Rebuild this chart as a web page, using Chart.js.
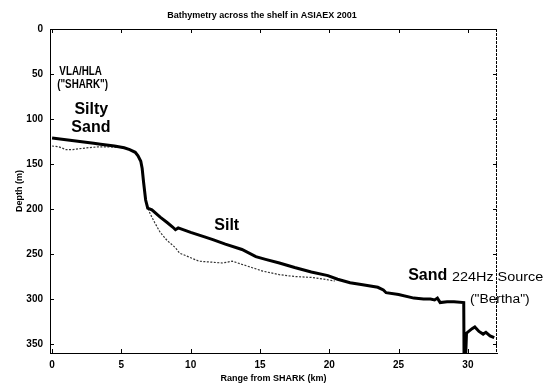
<!DOCTYPE html>
<html>
<head>
<meta charset="utf-8">
<script src="https://cdn.jsdelivr.net/npm/chart.js@4.4.0/dist/chart.umd.min.js"></script>
<style>
  html, body { margin: 0; padding: 0; background: #fff; }
</style>
</head>
<body>
<canvas id="bathy" width="546" height="386"></canvas>
<script>
// seafloor depth along the track (km, m)
const bathyRange = [0, 1, 2, 3, 3.5, 4.5, 5.2, 5.6, 6.0, 6.2, 6.4, 6.5, 6.6, 6.75, 6.9, 7.2, 7.8, 8.3, 8.7, 8.9, 9.1,
  10, 11, 11.6, 12.5, 13.7, 14.7, 15.4, 16.4, 17.5, 18.7, 19.9, 20.6, 21.5, 22.3, 23.5, 23.9, 24.1, 25, 26.1,
  26.8, 27.3, 27.6, 27.8, 28.0, 28.5, 29.0, 29.7, 29.72, 29.85, 29.9, 30.3, 30.5, 30.8, 31.1, 31.3, 31.6, 31.9];
const bathyDepth = [121, 123, 125, 127, 128, 130, 132, 134, 137, 141, 147, 155, 170, 190, 199, 201, 209, 215, 220, 223, 221,
  226, 231, 234, 239, 245, 253, 256, 260, 265, 270, 274, 278, 282, 284, 287, 290, 293, 295, 299,
  300, 300, 301, 299, 304, 303, 303, 304, 359, 359, 338, 333, 331, 336, 339, 337, 341, 343];

// second (dotted) survey line
const layerRange = [0, 0.5, 1, 1.5, 2, 2.5, 3.3, 4.2, 5.2, 5.6, 6.0, 6.2, 6.4, 6.5, 6.6, 6.75, 6.9, 7.1, 7.4, 7.8,
  8.3, 8.9, 9.2, 10.6, 12.3, 13.0, 14.4, 15.2, 16.4, 17.5, 18.7, 19.6, 20.4];
const layerDepth = [130, 131, 134, 134, 133, 132, 131, 131, 132, 134, 137, 141, 147, 155, 170, 190, 199, 206, 215, 226,
  235, 243, 249, 258, 260, 258, 265, 269, 273, 275, 276, 278, 280];

const rangeTicks = [0, 5, 10, 15, 20, 25, 30];
const depthTicks = [0, 50, 100, 150, 200, 250, 300, 350];

const sans = "'Liberation Sans', Arial, sans-serif";

// text placed on the plot, in km / m
const notes = [
  { text: 'VLA/HLA', x: 2.06, y: 47, font: 'bold 12px ' + sans, sx: 0.82 },
  { text: '("SHARK")', x: 2.2, y: 62, font: 'bold 12px ' + sans, sx: 0.82 },
  { text: 'Silty', x: 2.83, y: 89, font: 'bold 16px ' + sans },
  { text: 'Sand', x: 2.8, y: 109, font: 'bold 16px ' + sans },
  { text: 'Silt', x: 12.6, y: 218, font: 'bold 16px ' + sans },
  { text: 'Sand', x: 27.1, y: 274, font: 'bold 16px ' + sans },
  { text: '224Hz Source', x: 28.85, y: 276, font: '12px ' + sans, align: 'left', sx: 1.2 },
  { text: '("Bertha")', x: 30.15, y: 300.5, font: '12px ' + sans, align: 'left', sx: 1.15 }
];

function toPoints(xs, ys) {
  return xs.map((x, i) => ({ x: x, y: ys[i] }));
}

const framePlugin = {
  id: 'frame',
  afterDraw(chart) {
    const ctx = chart.ctx;
    const a = chart.chartArea;
    const sx = chart.scales.x, sy = chart.scales.y;
    ctx.save();
    ctx.strokeStyle = '#000';
    ctx.lineWidth = 1;
    ctx.beginPath();
    ctx.moveTo(a.left, a.top + 0.5);
    ctx.lineTo(a.right, a.top + 0.5);
    ctx.stroke();
    ctx.setLineDash([3, 1]);
    ctx.beginPath();
    ctx.moveTo(a.right - 0.5, a.top);
    ctx.lineTo(a.right - 0.5, a.bottom);
    ctx.stroke();
    ctx.setLineDash([]);
    // inward tick marks on all four sides
    ctx.beginPath();
    sx.ticks.forEach(t => {
      const px = Math.round(sx.getPixelForValue(t.value)) + 0.5;
      ctx.moveTo(px, a.bottom); ctx.lineTo(px, a.bottom - 4);
      ctx.moveTo(px, a.top); ctx.lineTo(px, a.top + 4);
    });
    sy.ticks.forEach(t => {
      const py = Math.round(sy.getPixelForValue(t.value)) + 0.5;
      ctx.moveTo(a.left, py); ctx.lineTo(a.left + 4, py);
      ctx.moveTo(a.right, py); ctx.lineTo(a.right - 4, py);
    });
    ctx.stroke();

    // title
    ctx.fillStyle = '#000';
    ctx.font = 'bold 9px ' + sans;
    ctx.textAlign = 'center';
    ctx.textBaseline = 'middle';
    ctx.fillText('Bathymetry across the shelf in ASIAEX 2001', 262, 15.5);

    // plot annotations
    notes.forEach(n => {
      const px = sx.getPixelForValue(n.x);
      const py = sy.getPixelForValue(n.y);
      ctx.save();
      ctx.font = n.font;
      ctx.textAlign = n.align || 'center';
      ctx.textBaseline = 'middle';
      ctx.translate(px, py);
      ctx.scale(n.sx || 1, 1);
      ctx.fillText(n.text, 0, 0);
      ctx.restore();
    });
    ctx.restore();
  }
};

new Chart(document.getElementById('bathy'), {
  type: 'line',
  data: {
    datasets: [
      {
        label: 'bathymetry',
        data: toPoints(bathyRange, bathyDepth),
        borderColor: '#000',
        borderWidth: 3,
        pointRadius: 0,
        tension: 0,
        order: 1
      },
      {
        label: 'layer',
        data: toPoints(layerRange, layerDepth),
        borderColor: '#333',
        borderWidth: 1.2,
        borderDash: [2, 1.5],
        pointRadius: 0,
        tension: 0,
        order: 2
      }
    ]
  },
  options: {
    responsive: false,
    devicePixelRatio: 1,
    animation: false,
    layout: { padding: { top: 29, right: 49, left: 0, bottom: 0 } },
    plugins: {
      legend: { display: false },
      tooltip: { enabled: false }
    },
    scales: {
      x: {
        type: 'linear',
        min: -0.15,
        max: 32.1,
        afterBuildTicks: s => { s.ticks = rangeTicks.map(v => ({ value: v })); },
        afterFit: s => { s.height = 33; },
        grid: { display: false, drawTicks: false },
        border: { display: true, color: '#000', width: 1 },
        ticks: {
          color: '#000',
          padding: 6,
          maxRotation: 0,
          font: { family: sans, size: 10, weight: 'bold' }
        },
        title: {
          display: true,
          text: 'Range from SHARK (km)',
          color: '#000',
          font: { family: sans, size: 9, weight: 'bold' },
          padding: { top: 0, bottom: 2 }
        }
      },
      y: {
        type: 'linear',
        reverse: true,
        min: 0,
        max: 360,
        afterBuildTicks: s => { s.ticks = depthTicks.map(v => ({ value: v })); },
        afterFit: s => { s.width = 50; },
        grid: { display: false, drawTicks: false },
        border: { display: true, color: '#000', width: 1, dash: [3, 1] },
        ticks: {
          color: '#000',
          padding: 7,
          font: { family: sans, size: 10, weight: 'bold' }
        },
        title: {
          display: true,
          text: 'Depth (m)',
          color: '#000',
          font: { family: sans, size: 9, weight: 'bold' },
          padding: { top: 14, bottom: 0 }
        }
      }
    }
  },
  plugins: [framePlugin]
});
</script>
</body>
</html>
